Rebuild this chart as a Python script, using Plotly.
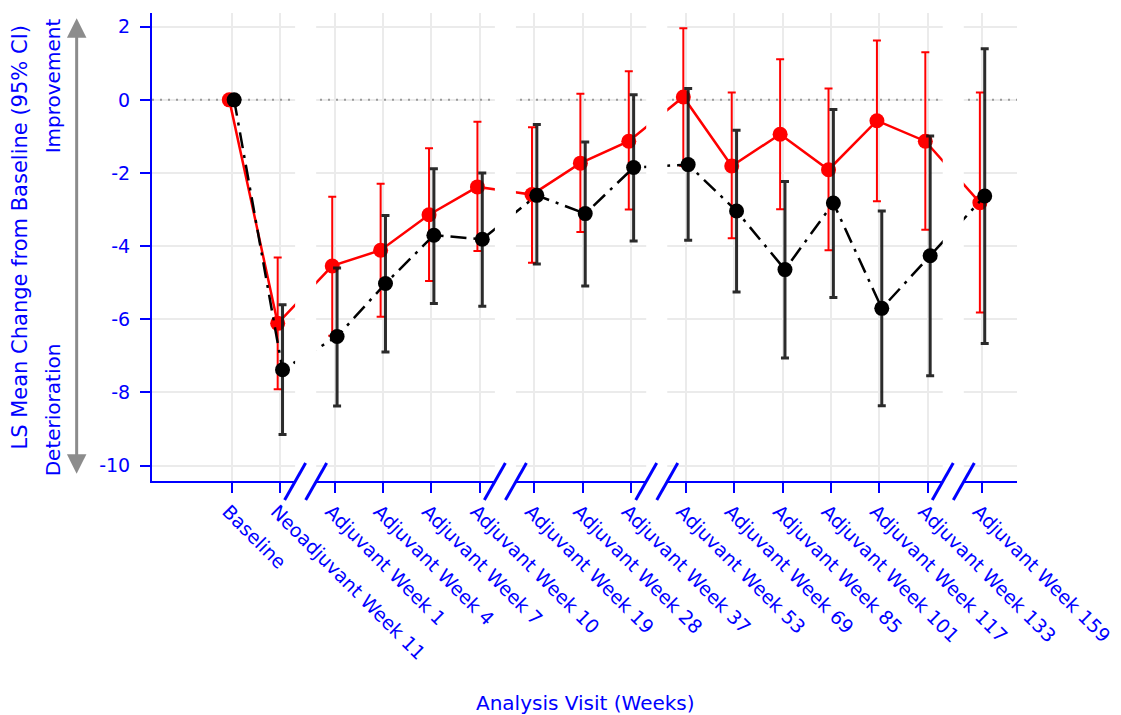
import plotly.graph_objects as go

# ---- data -----------------------------------------------------------------
visits = [
    "Baseline", "Neoadjuvant Week 11",
    "Adjuvant Week 1", "Adjuvant Week 4", "Adjuvant Week 7", "Adjuvant Week 10",
    "Adjuvant Week 19", "Adjuvant Week 28", "Adjuvant Week 37",
    "Adjuvant Week 53", "Adjuvant Week 69", "Adjuvant Week 85",
    "Adjuvant Week 101", "Adjuvant Week 117", "Adjuvant Week 133",
    "Adjuvant Week 159",
]

red_mean = [0.0, -6.11, -4.54, -4.11, -3.14, -2.38, -2.59, -1.73, -1.13,
            0.08, -1.81, -0.94, -1.91, -0.57, -1.13, -2.81]
red_lower = [0.0, -7.91, -6.45, -5.93, -4.95, -4.13, -4.45, -3.61, -3.00,
             -1.81, -3.78, -2.99, -4.11, -2.77, -3.55, -5.81]
red_upper = [0.0, -4.31, -2.65, -2.29, -1.32, -0.60, -0.75, 0.17, 0.78,
             1.96, 0.20, 1.11, 0.31, 1.62, 1.30, 0.20]

black_mean = [0.0, -7.38, -6.47, -5.02, -3.70, -3.81, -2.61, -3.11, -1.85,
              -1.77, -3.04, -4.64, -2.82, -5.70, -4.26, -2.63]
black_lower = [0.0, -9.15, -8.37, -6.89, -5.57, -5.64, -4.49, -5.09, -3.86,
               -3.84, -5.25, -7.06, -5.40, -8.36, -7.54, -6.66]
black_upper = [0.0, -5.60, -4.60, -3.16, -1.88, -2.00, -0.67, -1.15, 0.14,
               0.31, -0.83, -2.23, -0.26, -3.04, -0.99, 1.40]

# axis breaks follow these visits
break_after = [1, 5, 8, 14]

y_ticks = [-10, -8, -6, -4, -2, 0, 2]
y_tick_text = ["-10", "-8", "-6", "-4", "-2", "0", "2"]

# ---- layout helpers -------------------------------------------------------
BLUE = "#0000FF"
GRID = "#EBEBEB"
FONT = "DejaVu Sans"
BREAK_EXTRA = 0.127      # extra spacing added at each axis break
DODGE = 0.05             # horizontal offset between the two series
X_RANGE = [-1.647, 16.225]
Y_RANGE = [-10.42, 2.375]

xpos = []
shift = 0.0
for i in range(len(visits)):
    xpos.append(i + shift)
    if i in break_after:
        shift += BREAK_EXTRA

red_x = [x - DODGE for x in xpos]
black_x = [x + DODGE for x in xpos]

fig = go.Figure()

# dotted reference line at zero, kept behind the series
fig.add_trace(go.Scatter(
    x=X_RANGE, y=[0, 0], mode="lines", name="No change",
    line=dict(color="#9A9A9A", width=2, dash="2px,6px"),
    hoverinfo="skip", showlegend=False,
))

fig.add_trace(go.Scatter(
    x=red_x, y=red_mean, mode="lines+markers", name="Arm A",
    line=dict(color="#FF0000", width=2.5),
    marker=dict(color="#FF0000", size=15),
    error_y=dict(type="data", symmetric=False,
                 array=[u - m for u, m in zip(red_upper, red_mean)],
                 arrayminus=[m - l for m, l in zip(red_mean, red_lower)],
                 color="#FF0000", thickness=2, width=4),
    showlegend=False,
))

fig.add_trace(go.Scatter(
    x=black_x, y=black_mean, mode="lines+markers", name="Arm B",
    line=dict(color="#000000", width=2.5, dash="16px,7px,3px,7px"),
    marker=dict(color="#000000", size=15),
    error_y=dict(type="data", symmetric=False,
                 array=[u - m for u, m in zip(black_upper, black_mean)],
                 arrayminus=[m - l for m, l in zip(black_mean, black_lower)],
                 color="rgba(20,20,20,0.9)", thickness=3, width=4),
    showlegend=False,
))

shapes = []
# white gaps that interrupt grid, lines and axis at each break
for b in break_after:
    g0 = xpos[b] + 0.31
    g1 = xpos[b] + 0.745
    shapes.append(dict(type="rect", xref="x", yref="paper", x0=g0, x1=g1,
                       y0=-0.006, y1=1.0, layer="above",
                       fillcolor="white", line=dict(width=0)))
    for gx in (g0, g1):
        shapes.append(dict(type="line", xref="x", yref="paper",
                           xsizemode="pixel", ysizemode="pixel",
                           xanchor=gx, yanchor=0,
                           x0=-10.5, x1=10.5, y0=-19, y1=18,
                           layer="above", line=dict(color=BLUE, width=3)))

annotations = [
    dict(text="LS Mean Change from Baseline (95% CI)", textangle=-90,
         xref="paper", yref="paper", x=-0.1526, y=0.5203,
         showarrow=False, xanchor="center", yanchor="middle",
         font=dict(family=FONT, size=21, color=BLUE)),
    dict(text="Improvement", textangle=-90,
         xref="paper", yref="paper", x=-0.1141, y=0.844,
         showarrow=False, xanchor="center", yanchor="middle",
         font=dict(family=FONT, size=20, color=BLUE)),
    dict(text="Deterioration", textangle=-90,
         xref="paper", yref="paper", x=-0.1141, y=0.1517,
         showarrow=False, xanchor="center", yanchor="middle",
         font=dict(family=FONT, size=20, color=BLUE)),
    dict(text="", xref="paper", yref="paper", x=-0.0871, y=0.989,
         axref="pixel", ayref="pixel", ax=0, ay=457,
         showarrow=True, arrowside="end+start", arrowhead=2,
         arrowsize=1.3, arrowwidth=3, arrowcolor="#8C8C8C"),
    dict(text="Analysis Visit (Weeks)",
         xref="paper", yref="paper", x=0.501, y=-0.4744,
         showarrow=False, xanchor="center", yanchor="middle",
         font=dict(family=FONT, size=20, color=BLUE)),
]

fig.update_layout(
    width=1121, height=715,
    margin=dict(l=152, r=104, t=13, b=234),
    plot_bgcolor="white", paper_bgcolor="white",
    font=dict(family=FONT, color=BLUE),
    shapes=shapes, annotations=annotations,
    xaxis=dict(
        range=X_RANGE, tickvals=xpos, ticktext=visits,
        tickangle=45, ticks="outside", ticklen=10, tickwidth=2, tickcolor=BLUE,
        showline=True, linecolor=BLUE, linewidth=2,
        showgrid=True, gridcolor=GRID, gridwidth=2, zeroline=False,
        tickfont=dict(family=FONT, size=19, color=BLUE),
        ticklabeloverflow="allow", automargin=False, ticklabelshift=-4,
    ),
    yaxis=dict(
        range=Y_RANGE, tickvals=y_ticks, ticktext=y_tick_text,
        ticks="outside", ticklen=10, tickwidth=2, tickcolor=BLUE,
        showline=True, linecolor=BLUE, linewidth=2,
        showgrid=True, gridcolor=GRID, gridwidth=2, zeroline=False,
        tickfont=dict(family=FONT, size=19, color=BLUE),
        ticklabelstandoff=6, automargin=False,
    ),
)

fig.write_html("out.html")
